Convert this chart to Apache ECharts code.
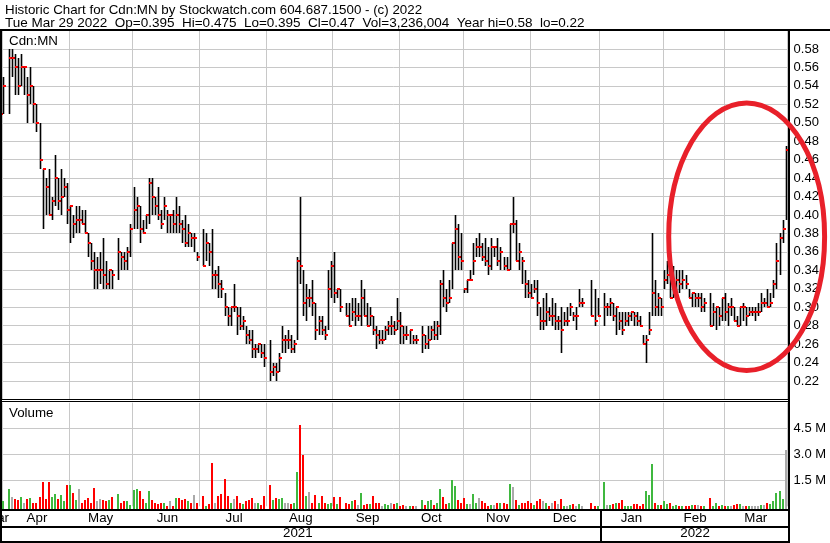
<!DOCTYPE html>
<html>
<head>
<meta charset="utf-8">
<script src="https://cdn.jsdelivr.net/npm/echarts@6/dist/echarts.min.js"></script>
<style>
html,body{margin:0;padding:0;background:#fff;}
#c{width:830px;height:543px;}
</style>
</head>
<body>
<div id="c"></div>
<script>
// ---------------- DATA ----------------
const firstDay = '2021-03-29';
const lastDay  = '2022-03-29';   // weekday slots (exchange holidays stay empty)
const symbol = 'Cdn:MN';
const lastSession = { open: 0.395, volume: 3236004 };   // Mar 29 2022 (session in progress)

const highs = [
 /*Mar21*/ null,null,.52,
 /*Apr*/ .55,null,.58,.58,.575,.57,.575,.56,.55,.56,.54,.52,.50,.45,.44,.45,.42,.465,.44,.45,.44,.435,
 /*May*/ .41,.40,.41,.41,.405,.405,.38,.37,.36,.355,.36,.375,.35,.34,.34,null,.375,.36,.36,.365,.39,
 /*Jun*/ .43,.42,.41,.395,.40,.44,.44,.42,.43,.405,.42,.405,.40,.405,.42,.41,.395,.40,.39,.38,.38,.36,
 /*Jul*/ null,.385,.38,.37,.385,.34,.345,.33,.315,.30,.30,.325,.30,.30,.29,.28,.275,.275,.26,.26,.26,.26,
 /*Aug*/ null,.265,.24,.24,.25,.28,.27,.275,.27,.265,.355,.42,.34,.325,.32,.33,.305,.29,.29,.28,.34,.35,
 /*Sep*/ .36,.32,.32,null,.305,.305,.31,.31,.305,.33,.32,.305,.30,.29,.28,.275,.275,.28,.285,.29,.285,.31,
 /*Oct*/ .295,.28,.28,.275,.27,.27,null,.28,.27,.28,.28,.285,.285,.33,.34,.32,.33,.37,.40,.39,.38,
 /*Nov*/ .32,.33,.34,.37,.375,.38,.37,.375,.365,.375,.365,.375,.365,.355,.355,.39,.42,.395,.37,.355,.34,.33,
 /*Dec*/ .325,.33,.33,.30,.31,.315,.30,.31,.305,.29,.30,.295,.30,.305,.295,.30,.32,.31,null,null,.33,.32,.31,
 /*Jan*/ null,.315,.305,.31,.305,.30,.295,.295,.295,.295,.295,.295,.295,.29,.27,.27,.295,.38,.33,.315,.31,
 /*Feb*/ .34,.35,.34,.345,.34,.34,.34,.335,.32,.315,.315,.315,.315,.31,null,.315,.305,.30,.30,.31,
 /*Mar22*/ .315,.305,.31,.30,.29,.30,.305,.30,.30,.30,.30,.305,.315,.31,.32,.315,.33,.37,.38,.395,.475
];
const lows = [
 /*Mar21*/ null,null,.485,
 /*Apr*/ .51,null,.51,.55,.53,.53,.54,.53,.50,.52,.50,.49,.45,.385,.40,.40,.395,.41,.405,.40,.42,.39,
 /*May*/ .37,.375,.38,.38,.39,.38,.355,.34,.32,.32,.325,.32,.32,.32,.32,null,.33,.34,.34,.34,.355,
 /*Jun*/ .385,.385,.37,.38,.385,.39,.40,.40,.395,.385,.395,.38,.38,.38,.38,.38,.37,.365,.365,.365,.36,.35,
 /*Jul*/ null,.345,.35,.345,.32,.32,.31,.31,.29,.28,.28,.295,.27,.275,.275,.26,.26,.245,.245,.25,.245,.235,
 /*Aug*/ null,.22,.225,.22,.23,.25,.25,.255,.25,.25,.265,.325,.29,.285,.30,.29,.265,.27,.27,.265,.275,.31,
 /*Sep*/ .305,.31,.295,null,.29,.28,.285,.28,.285,.28,.29,.28,.28,.27,.255,.26,.26,.265,.27,.27,.27,.275,
 /*Oct*/ .26,.26,.265,.26,.26,.26,null,.25,.255,.255,.265,.265,.265,.27,.30,.295,.305,.32,.34,.34,.34,
 /*Nov*/ .315,.315,.33,.335,.355,.355,.35,.345,.335,.34,.355,.345,.34,.34,.34,.34,.38,.35,.34,.325,.31,.31,
 /*Dec*/ .31,.315,.29,.275,.275,.28,.285,.28,.275,.275,.25,.28,.28,.29,.285,.275,.30,.30,null,null,.29,.28,.29,
 /*Jan*/ null,.28,.29,.29,.285,.27,.275,.27,.28,.28,.285,.28,.28,.28,.26,.24,.27,.29,.29,.29,.29,
 /*Feb*/ .32,.325,.31,.31,.31,.315,.32,.32,.31,.30,.30,.30,.295,.295,null,.28,.28,.275,.28,.285,
 /*Mar22*/ .285,.28,.29,.285,.28,.28,.285,.28,.29,.29,.285,.29,.295,.30,.30,.30,.31,.32,.335,.37,.395
];
const closes = [
 /*Mar21*/ null,null,.51,
 /*Apr*/ .54,null,.57,.57,.56,.54,.56,.56,.53,.54,.52,.50,.46,.45,.43,.40,.415,.44,.415,.42,.43,.405,
 /*May*/ .41,.39,.395,.395,.39,.38,.37,.35,.34,.34,.34,.335,.325,.34,.335,null,.36,.355,.35,.36,.385,
 /*Jun*/ .405,.41,.385,.38,.40,.435,.42,.41,.40,.39,.41,.40,.40,.39,.40,.39,.385,.37,.38,.375,.375,.355,
 /*Jul*/ null,.345,.37,.36,.335,.335,.325,.32,.30,.29,.30,.30,.29,.28,.285,.27,.265,.255,.255,.26,.25,.245,
 /*Aug*/ null,.23,.235,.23,.245,.265,.265,.265,.255,.26,.35,.345,.305,.31,.31,.305,.275,.285,.275,.27,.32,.345,
 /*Sep*/ .315,.32,.30,null,.29,.28,.295,.29,.29,.31,.29,.28,.29,.275,.27,.265,.265,.275,.28,.28,.275,.285,
 /*Oct*/ .28,.27,.27,.275,.265,.265,null,.27,.26,.265,.275,.27,.28,.325,.31,.305,.31,.37,.385,.355,.35,
 /*Nov*/ .32,.33,.33,.35,.365,.365,.355,.35,.345,.365,.365,.35,.36,.345,.34,.39,.39,.35,.36,.35,.325,.315,
 /*Dec*/ .31,.32,.305,.285,.285,.295,.29,.29,.285,.285,.275,.285,.285,.30,.29,.29,.305,.305,null,null,.29,.285,.29,
 /*Jan*/ null,.30,.30,.305,.29,.30,.285,.275,.285,.29,.295,.29,.285,.28,.26,.265,.275,.315,.30,.31,.30,
 /*Feb*/ .33,.335,.31,.315,.33,.325,.33,.325,.31,.315,.31,.31,.30,.305,null,.28,.295,.30,.29,.31,
 /*Mar22*/ .295,.30,.30,.285,.28,.30,.30,.29,.295,.295,.295,.295,.305,.305,.30,.305,.325,.35,.375,.385,.47
];
// volume, millions of shares
const volumes = [
 /*Mar21*/ null,null,.24,
 /*Apr*/ .28,null,.98,.53,.40,.34,.51,.22,.40,.46,.21,.17,.51,1.38,.40,1.38,.51,.69,.40,.67,.28,1.21,
 /*May*/ 1.21,.75,.34,.98,.17,.34,.46,.21,1.04,.28,.40,.34,.28,.34,.51,null,.69,.22,.28,.28,.05,
 /*Jun*/ .92,.98,.86,.40,.17,.86,.34,.22,.11,.17,.22,.03,.28,.03,.46,.46,.34,.40,.28,.17,.63,.22,
 /*Jul*/ null,.57,.03,.11,2.48,.22,.57,.69,1.56,.57,.17,.40,.57,.22,.11,.28,.34,.46,.22,.22,.05,.57,
 /*Aug*/ null,1.21,.34,.46,.40,.46,.22,.22,.11,.22,1.96,4.68,3.0,.57,.8,.17,.63,.22,.57,.22,.11,.22,
 /*Sep*/ .51,.11,.51,null,.22,.11,.28,.34,.05,.75,.05,.11,.11,.57,.22,.17,.03,.11,.05,.22,.11,.22,
 /*Oct*/ .03,.05,.03,.02,.03,.03,null,.34,.05,.28,.34,.05,.17,.98,.51,.11,.22,1.50,1.15,.34,.17,
 /*Nov*/ .46,.11,.11,.69,.22,.46,.28,.17,.03,.05,.05,.22,.17,.17,.11,1.27,1.09,.34,.05,.22,.22,.28,
 /*Dec*/ .17,.05,.28,.40,.28,.22,.03,.22,.28,.11,.40,.03,.03,.05,.11,.03,.11,.03,null,null,.17,.03,.03,
 /*Jan*/ null,1.38,.05,.05,.11,.22,.22,.34,.03,.03,.03,.11,.11,.03,.11,.86,.63,2.43,.17,.05,.05,
 /*Feb*/ .28,.11,.22,.03,.05,.03,.03,.03,.03,.05,.05,.05,.03,.03,null,.46,.03,.22,.03,.05,
 /*Mar22*/ .03,.03,.03,.05,.11,.11,.03,.03,.03,.03,.03,.03,.05,.05,.22,.11,.28,.75,.86,.40,3.236
];
const priceAxis = { min: 0.20, max: 0.60, step: 0.02 };
const volumeAxis = { min: 0, max: 6, step: 1.5, unit: ' M' };
const monthNames = ['Jan','Feb','Mar','Apr','May','Jun','Jul','Aug','Sep','Oct','Nov','Dec'];
// hand-drawn highlight ring (data coordinates)
const ring = { centerDate: '2022-03-10', centerPrice: 0.3765, halfDays: 25.7, halfPrice: 0.145 };

// ---------------- CATEGORIES ----------------
function weekdaySlots(a, b) {
  const out = [];
  const d = new Date(a + 'T00:00:00Z'), end = new Date(b + 'T00:00:00Z');
  while (d <= end) {
    const w = d.getUTCDay();
    if (w !== 0 && w !== 6) out.push(d.toISOString().slice(0, 10));
    d.setUTCDate(d.getUTCDate() + 1);
  }
  return out;
}
const cats = weekdaySlots(firstDay, lastDay);

const monthStart = new Set(), monthMid = new Set(), yearMid = new Set();
(function () {
  const groupBy = (len, target) => {
    let s = 0;
    for (let i = 1; i <= cats.length; i++) {
      if (i === cats.length || cats[i].slice(0, len) !== cats[s].slice(0, len)) {
        target.add(s + Math.ceil((i - 1 - s) / 2));
        if (len === 7 && i < cats.length) monthStart.add(i);
        s = i;
      }
    }
  };
  groupBy(7, monthMid);
  groupBy(4, yearMid);
})();

// ---------------- STYLE / LAYOUT ----------------
const FONT = '"Liberation Sans", Arial, sans-serif';
const GRIDC = '#c8c8c8';
const UP = '#3fb83f', DOWN = '#ff0000', FLAT = '#aaaaaa';
const priceGrid = { left: -7, top: 30.5, width: 794.6, height: 369, outerBoundsMode: 'none' };
const volGrid = { left: -7, top: 402.7, width: 794.6, height: 103.6, outerBoundsMode: 'none' };

const priceData = [], volData = [];
let prev = null;
for (let i = 0; i < cats.length; i++) {
  if (highs[i] != null) priceData.push([i, highs[i], lows[i], closes[i]]);
  if (volumes[i] != null) {
    let dir = 2;
    if (prev != null && cats[i] !== lastDay) dir = closes[i] > prev ? 0 : (closes[i] < prev ? 1 : 2);
    volData.push([i, volumes[i], dir]);
  }
  if (closes[i] != null) prev = closes[i];
}
const volColors = [UP, DOWN, FLAT];

const catAxisBase = {
  type: 'category', data: cats, boundaryGap: true,
  axisLine: { show: false }, axisTick: { show: false }
};

const option = {
  animation: false,
  backgroundColor: '#fff',
  grid: [priceGrid, volGrid],
  xAxis: [
    Object.assign({}, catAxisBase, {
      gridIndex: 0, axisLabel: { show: false },
      splitLine: { show: true, interval: (i) => monthStart.has(i), lineStyle: { color: GRIDC, width: 1 } }
    }),
    Object.assign({}, catAxisBase, {
      gridIndex: 1, position: 'bottom',
      axisLabel: {
        show: true, interval: (i) => monthMid.has(i),
        formatter: (v) => monthNames[+v.slice(5, 7) - 1],
        margin: 5.5, color: '#000', fontSize: 13.33, fontFamily: FONT
      },
      splitLine: { show: true, interval: (i) => monthStart.has(i), lineStyle: { color: GRIDC, width: 1 } }
    }),
    Object.assign({}, catAxisBase, {
      gridIndex: 1, position: 'bottom', offset: 15,
      axisLabel: {
        show: true, interval: (i) => yearMid.has(i),
        formatter: (v) => v.slice(0, 4),
        margin: 5.5, color: '#000', fontSize: 13.33, fontFamily: FONT
      },
      splitLine: { show: false }
    })
  ],
  yAxis: [
    {
      type: 'value', gridIndex: 0, position: 'right',
      min: priceAxis.min, max: priceAxis.max, interval: priceAxis.step,
      axisLine: { show: false }, axisTick: { show: false },
      splitLine: { show: true, showMinLine: false, showMaxLine: false, lineStyle: { color: GRIDC, width: 1 } },
      axisLabel: {
        showMinLabel: false, showMaxLabel: false, margin: 6,
        formatter: (v) => v.toFixed(2), color: '#000', fontSize: 13, fontFamily: FONT
      }
    },
    {
      type: 'value', gridIndex: 1, position: 'right',
      min: volumeAxis.min, max: volumeAxis.max, interval: volumeAxis.step,
      axisLine: { show: false }, axisTick: { show: false },
      splitLine: { show: true, showMinLine: false, showMaxLine: false, lineStyle: { color: GRIDC, width: 1 } },
      axisLabel: {
        showMinLabel: false, showMaxLabel: false, margin: 6,
        formatter: (v) => (v > volumeAxis.min && v < volumeAxis.max) ? v.toFixed(1) + volumeAxis.unit : '',
        color: '#000', fontSize: 13, fontFamily: FONT
      }
    }
  ],
  series: [
    {
      type: 'custom', name: 'price', xAxisIndex: 0, yAxisIndex: 0,
      data: priceData, encode: { x: 0, y: [1, 2, 3] },
      renderItem: function (params, api) {
        const i = api.value(0);
        const hi = api.coord([i, api.value(1)]);
        const lo = api.coord([i, api.value(2)]);
        const cl = api.coord([i, api.value(3)]);
        const x = Math.floor(hi[0]);
        const y1 = Math.round(hi[1]), y2 = Math.round(lo[1]);
        return {
          type: 'group', children: [
            { type: 'rect', shape: { x: x - 0.3, y: y1, width: 1.6, height: Math.max(2, y2 - y1) }, style: { fill: '#000' } },
            { type: 'rect', shape: { x: x, y: Math.round(cl[1]) - 1, width: 3, height: 2 }, style: { fill: DOWN } }
          ]
        };
      }
    },
    {
      type: 'custom', name: 'volume', xAxisIndex: 1, yAxisIndex: 1,
      data: volData, encode: { x: 0, y: 1 },
      renderItem: function (params, api) {
        const i = api.value(0);
        const top = api.coord([i, api.value(1)]);
        const base = params.coordSys.y + params.coordSys.height + 3;
        const x = Math.floor(top[0]);
        const y = Math.round(top[1]);
        return { type: 'rect', shape: { x: x - 1, y: y, width: 2, height: base - y }, style: { fill: volColors[api.value(2)] } };
      }
    }
  ]
};

const chart = echarts.init(document.getElementById('c'), null, { renderer: 'canvas', width: 830, height: 543 });
chart.setOption(option);

// ---------------- FRAME, TEXT, ANNOTATION ----------------
const toPx = (i, v) => chart.convertToPixel({ gridIndex: 0 }, [i, v]);
const band = toPx(1, 0.4)[0] - toPx(0, 0.4)[0];
const pxPerPrice = (toPx(0, priceAxis.min)[1] - toPx(0, priceAxis.max)[1]) / (priceAxis.max - priceAxis.min);
const lastIdx = cats.length - 1;
const yearHi = Math.max(...highs.filter(v => v != null));
const yearLo = Math.min(...lows.filter(v => v != null));
const dt = new Date(lastDay + 'T00:00:00Z');
const dayNames = ['Sun','Mon','Tue','Wed','Thu','Fri','Sat'];
const dateStr = dayNames[dt.getUTCDay()] + ' ' + monthNames[dt.getUTCMonth()] + ' ' + dt.getUTCDate() + ' ' + dt.getUTCFullYear();
const line2 = dateStr + '  Op=' + lastSession.open + '  Hi=' + highs[lastIdx] + '  Lo=' + lows[lastIdx] +
  '  Cl=' + closes[lastIdx] + '  Vol=' + lastSession.volume.toLocaleString('en-US') +
  '  Year hi=' + yearHi + '  lo=' + yearLo;

const K = '#000';
const bar = (x, y, w, h) => ({ type: 'rect', shape: { x, y, width: w, height: h }, style: { fill: K }, z: 100, silent: true });
const txt = (x, y, s, size) => ({ type: 'text', x: x, y: y, z: 101, silent: true,
  style: { text: s, fill: '#000', font: (size || 13.33) + 'px ' + FONT, textAlign: 'left', textVerticalAlign: 'middle' } });

const first2022 = cats.findIndex(d => d.startsWith('2022'));
const divX = Math.round(toPx(first2022, 0.4)[0] - band / 2);
const rc = toPx(cats.indexOf(ring.centerDate), ring.centerPrice);

chart.setOption({
  graphic: [
    bar(0, 29, 830, 2),
    bar(0, 29, 2, 514),
    bar(788, 29, 2, 514),
    bar(0, 399, 790, 1),
    bar(0, 401, 790, 1),
    bar(0, 509, 790, 2),
    bar(0, 526, 790, 2),
    bar(0, 541, 790, 2),
    bar(divX, 509, 2, 34),
    txt(5, 10, 'Historic Chart for ' + symbol + ' by Stockwatch.com 604.687.1500 - (c) 2022'),
    txt(5, 23.5, line2, 13.5),
    txt(9, 41, symbol),
    txt(9, 413, 'Volume'),
    {
      type: 'ellipse', z: 120, silent: true,
      shape: { cx: rc[0], cy: rc[1], rx: ring.halfDays * band, ry: ring.halfPrice * pxPerPrice },
      style: { fill: 'none', stroke: '#e8202a', lineWidth: 5 }
    }
  ]
});
</script>
</body>
</html>
